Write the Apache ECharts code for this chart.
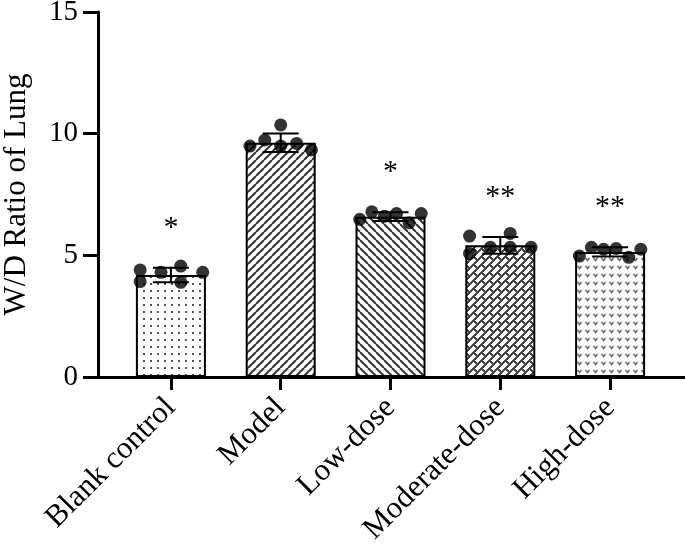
<!DOCTYPE html>
<html>
<head>
<meta charset="utf-8">
<script src="https://cdn.jsdelivr.net/npm/echarts@6/dist/echarts.min.js"></script>
<style>html,body{margin:0;padding:0;background:#fff;}#c{width:685px;height:549px;}</style>
</head>
<body>
<div id="c"></div>
<script>
// ---- data ----
const categories = ['Blank control', 'Model', 'Low-dose', 'Moderate-dose', 'High-dose'];
const means = [4.19, 9.63, 6.59, 5.41, 5.14];
const sds = [0.30, 0.38, 0.18, 0.34, 0.19];
const points = [
  [4.40, 4.30, 4.56, 4.30, 3.92, 3.89],
  [9.49, 9.74, 10.36, 9.49, 9.60, 9.33],
  [6.48, 6.79, 6.61, 6.72, 6.34, 6.72],
  [5.79, 5.08, 5.33, 5.90, 5.33, 5.33],
  [4.97, 5.33, 5.25, 5.28, 4.92, 5.25]
];
const jitter = [
  [-0.28, -0.09, 0.09, 0.29, -0.28, 0.09],
  [-0.28, -0.145, 0, 0, 0.145, 0.28],
  [-0.28, -0.17, -0.055, 0.055, 0.17, 0.28],
  [-0.28, -0.28, -0.09, 0.09, 0.09, 0.28],
  [-0.28, -0.17, -0.06, 0.055, 0.17, 0.28]
];
const stars = ['*', '', '*', '**', '**'];
const yMin = 0, yMax = 15, yStep = 5;
const yTitle = 'W/D Ratio of Lung';

// ---- pattern tiles ----
const FONT = 'Liberation Serif, Times New Roman, serif';
function tile(w, h, draw) {
  const c = document.createElement('canvas');
  c.width = w; c.height = h;
  const ctx = c.getContext('2d');
  ctx.fillStyle = '#fff'; ctx.fillRect(0, 0, w, h);
  draw(ctx, w, h);
  return { image: c, repeat: 'repeat' };
}
const patDots = tile(7, 7, (ctx) => { ctx.fillStyle = '#555'; ctx.fillRect(3, 3, 2, 2); });
const patSlash = tile(8, 8, (ctx) => {
  ctx.strokeStyle = '#333'; ctx.lineWidth = 2;
  [-8, 0, 8].forEach(k => { ctx.beginPath(); ctx.moveTo(k, 8); ctx.lineTo(k + 8, 0); ctx.stroke(); });
});
const patBack = tile(8, 8, (ctx) => {
  ctx.strokeStyle = '#333'; ctx.lineWidth = 2;
  [-8, 0, 8].forEach(k => { ctx.beginPath(); ctx.moveTo(k, 0); ctx.lineTo(k + 8, 8); ctx.stroke(); });
});
const patBrick = tile(32, 32, (ctx, w, h) => {
  const img = ctx.getImageData(0, 0, w, h);
  const P = 8, Q = 16;
  for (let y = 0; y < h; y++) for (let x = 0; x < w; x++) {
    const s = x + y, b = Math.floor(s / P);
    const d = (((x - y + b * Q / 2) % Q) + Q) % Q;
    const dark = (s % P) < 3 || d < 3;
    const i = (y * w + x) * 4;
    const v = dark ? 0x48 : 0xff;
    img.data[i] = v; img.data[i + 1] = v; img.data[i + 2] = v; img.data[i + 3] = 255;
  }
  ctx.putImageData(img, 0, 0);
});
const patVee = tile(8, 8, (ctx) => {
  ctx.strokeStyle = '#6a6a6a'; ctx.lineWidth = 1.6;
  ctx.beginPath(); ctx.moveTo(1.5, 2); ctx.lineTo(3.5, 4.5); ctx.lineTo(5.5, 2); ctx.stroke();
});
const patterns = [patDots, patSlash, patBack, patBrick, patVee];

// ---- build series data ----
const barData = means.map((m, i) => ({ value: m, itemStyle: { color: patterns[i] } }));
const errData = means.map((m, i) => [i, m, sds[i]]);
const dotData = [];
points.forEach((arr, i) => arr.forEach((v, j) => dotData.push([i + jitter[i][j], v])));

const chart = echarts.init(document.getElementById('c'), null, { renderer: 'canvas' });
const axisBlack = { color: '#000', width: 3 };
chart.setOption({
  animation: false,
  backgroundColor: '#fff',
  grid: [
    { left: 116, width: 549, top: 12, bottom: 172, outerBoundsMode: 'none', containLabel: false },
    { left: 98, right: 0, top: 12, bottom: 172, outerBoundsMode: 'none', containLabel: false }
  ],
  xAxis: [
    {
      gridIndex: 0, type: 'category', data: categories,
      axisLine: { show: true, lineStyle: axisBlack },
      axisTick: { show: true, alignWithLabel: true, length: 13, lineStyle: axisBlack },
      axisLabel: { rotate: 45, fontSize: 31, fontFamily: FONT, color: '#000', margin: 26, interval: 0 }
    },
    { gridIndex: 0, type: 'value', min: -0.5, max: 4.5, show: false },
    {
      gridIndex: 1, type: 'value', min: 0, max: 1,
      axisLine: { show: true, lineStyle: axisBlack },
      axisTick: { show: false }, axisLabel: { show: false }, splitLine: { show: false }
    }
  ],
  yAxis: [
    { gridIndex: 0, type: 'value', min: yMin, max: yMax, interval: yStep, show: false },
    {
      gridIndex: 1, type: 'value', min: yMin, max: yMax, interval: yStep,
      axisLine: { show: true, lineStyle: axisBlack },
      axisTick: { show: true, length: 15, lineStyle: axisBlack },
      axisLabel: { fontSize: 29, fontFamily: FONT, color: '#000', margin: 20 },
      splitLine: { show: false },
      name: yTitle, nameLocation: 'middle', nameRotate: 90, nameGap: 66,
      nameTextStyle: { fontSize: 31, fontFamily: FONT, color: '#000' }
    }
  ],
  series: [
    {
      type: 'bar', xAxisIndex: 0, yAxisIndex: 0, data: barData, barWidth: 70,
      itemStyle: { borderColor: '#000', borderWidth: 2 }, z: 2
    },
    {
      type: 'custom', xAxisIndex: 0, yAxisIndex: 0, data: errData, z: 3,
      renderItem: function (params, api) {
        const x = api.value(0), m = api.value(1), s = api.value(2);
        const top = api.coord([x, m + s]);
        const bot = api.coord([x, m - s]);
        const hw = 18;
        const st = { stroke: '#000', lineWidth: 2 };
        const children = [
          { type: 'line', shape: { x1: top[0], y1: top[1], x2: bot[0], y2: bot[1] }, style: st },
          { type: 'line', shape: { x1: top[0] - hw, y1: top[1], x2: top[0] + hw, y2: top[1] }, style: st },
          { type: 'line', shape: { x1: bot[0] - hw, y1: bot[1], x2: bot[0] + hw, y2: bot[1] }, style: st }
        ];
        const label = stars[params.dataIndex];
        if (label) {
          children.push({
            type: 'text', x: top[0], y: top[1] - 25,
            style: { text: label, fill: '#000', font: '30px ' + FONT, textAlign: 'center', textVerticalAlign: 'bottom' }
          });
        }
        return { type: 'group', children: children };
      }
    },
    {
      type: 'scatter', xAxisIndex: 1, yAxisIndex: 0, data: dotData, z: 4,
      symbol: 'circle', symbolSize: 13, itemStyle: { color: '#000' }
    }
  ]
});
</script>
</body>
</html>
